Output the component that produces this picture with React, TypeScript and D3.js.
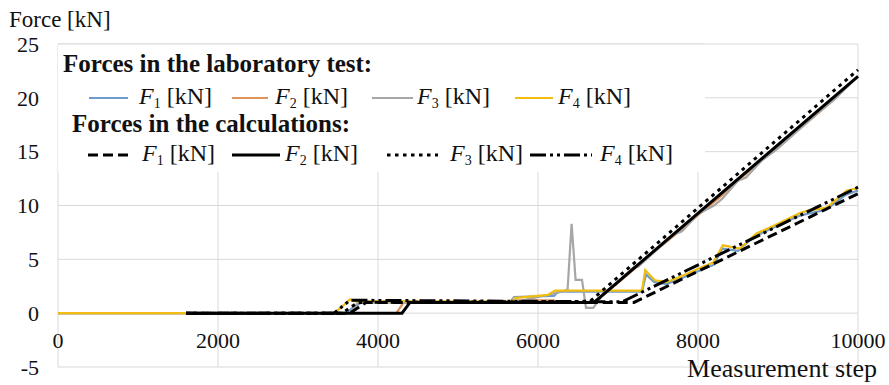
import React from 'react';
import * as d3 from 'd3';

type Pt = [number, number];

// laboratory test forces [step, kN]
const labF1: Pt[] = [[0, 0], [3600, 0], [3700, 0.6], [3800, 1.0], [5650, 1.0], [5700, 1.5], [6200, 1.6], [6250, 2.0], [7300, 2.0], [7350, 3.6], [7450, 2.9], [7600, 2.7], [7750, 3.1], [8000, 3.9], [8200, 4.5], [8300, 6.0], [8500, 5.8], [8700, 7.1], [8900, 7.8], [9250, 9.0], [9350, 9.2], [9600, 9.6], [9850, 11.0], [10000, 11.4]];
const labF2: Pt[] = [[0, 0], [4230, 0], [4320, 1.0], [5700, 1.0], [5750, 1.2], [6200, 1.2], [6250, 1.0], [6700, 1.0], [7000, 2.8], [7250, 4.4], [7500, 6.0], [7750, 7.5], [8000, 9.1], [8250, 10.6], [8500, 12.3], [8750, 13.9], [9000, 15.5], [9300, 17.3], [9600, 19.2], [9800, 20.6], [10000, 22.0]];
const labF3: Pt[] = [[0, 0], [3650, 0], [3750, 1.0], [5700, 1.0], [6000, 1.5], [6300, 2.0], [6370, 2.2], [6420, 8.3], [6470, 3.1], [6550, 3.1], [6600, 0.5], [6690, 0.5], [6800, 1.6], [7000, 2.9], [7200, 4.3], [7250, 4.3], [7500, 6.0], [7700, 7.3], [7800, 7.6], [8000, 9.2], [8200, 10.0], [8300, 10.6], [8500, 12.3], [8600, 12.6], [8800, 14.2], [9000, 15.3], [9300, 17.3], [9500, 18.6], [9700, 19.8], [10000, 22.0]];
const labF4: Pt[] = [[0, 0], [3450, 0], [3550, 0.6], [3650, 1.3], [3720, 1.1], [4400, 1.1], [5690, 1.1], [5700, 1.4], [6125, 1.7], [6210, 2.1], [7300, 2.1], [7340, 4.0], [7460, 3.05], [7610, 2.9], [7750, 3.3], [8025, 4.2], [8190, 4.7], [8310, 6.3], [8525, 6.0], [8730, 7.4], [8940, 8.1], [9275, 9.3], [9360, 9.5], [9610, 9.8], [9860, 11.4], [10000, 11.6]];

// calculated forces
const calcF1: Pt[] = [[1600, 0], [3650, 0], [3850, 1.0], [7200, 1.0], [10000, 11.1]];
const calcF2: Pt[] = [[1600, 0], [4300, 0], [4400, 1.0], [6700, 1.0], [10000, 22.0]];
const calcF3: Pt[] = [[1600, 0], [3550, 0], [3750, 1.0], [6650, 1.1], [10000, 22.6]];
const calcF4: Pt[] = [[1600, 0], [3450, 0], [3650, 1.2], [7050, 1.05], [10000, 11.7]];

const xTicks = [0, 2000, 4000, 6000, 8000, 10000];
const yTicks = [-5, 0, 5, 10, 15, 20, 25];
const seriesIdx = ['1', '2', '3', '4'];

const FONT = '"Liberation Serif", "Times New Roman", serif';
const labColors = ['#6f9bc8', '#e0935a', '#a6a6a6', '#f0bd10'];
const calcDash = ['10,5', '', '3.5,4.5', '16,4,3,4,3,4'];

const Label = ({x, y, sub}: {x: number; y: number; sub: string}) => (
    <text x={x} y={y} fontSize={24} fontFamily={FONT} fill="#111">
        <tspan fontStyle="italic">F</tspan>
        <tspan fontSize={14} dy={4}>{sub}</tspan>
        <tspan dy={-4}> [kN]</tspan>
    </text>
);

export default function App() {
    const width = 889, height = 385;
    const x = d3.scaleLinear().domain([0, 10000]).range([58, 858]);
    const y = d3.scaleLinear().domain([-5, 25]).range([367, 44]);
    const line = d3.line<Pt>().x(d => x(d[0])).y(d => y(d[1]));

    const lab = [labF1, labF2, labF3, labF4];
    const calc = [calcF1, calcF2, calcF3, calcF4];

    // legend layout
    const labLines = [[89, 128, 139], [232, 268, 275], [372, 413, 417], [515, 553, 558]];
    const calcLines = [[88, 132, 142], [232, 280, 285], [387, 438, 450], [530, 592, 600]];

    return (
        <svg width={width} height={height} style={{position: 'absolute', left: 0, top: 0, background: '#fff'}}>
            {/* grid */}
            {xTicks.map(t => (
                <line key={'gx' + t} x1={x(t)} x2={x(t)} y1={y(25)} y2={y(-5)} stroke="#d9d9d9" strokeWidth={1}/>
            ))}
            {yTicks.map(t => (
                <line key={'gy' + t} x1={x(0)} x2={x(10000)} y1={y(t)} y2={y(t)} stroke="#d9d9d9" strokeWidth={1}/>
            ))}

            {/* tick labels */}
            {yTicks.map(t => (
                <text key={'ty' + t} x={39} y={y(t)} dy="0.35em" textAnchor="end" fontSize={22} fontFamily={FONT} fill="#111">{t}</text>
            ))}
            {xTicks.map(t => (
                <text key={'tx' + t} x={x(t)} y={348} textAnchor="middle" fontSize={22} fontFamily={FONT} fill="#111">{t}</text>
            ))}

            {/* axis titles */}
            <text x={9} y={27} fontSize={23} fontFamily={FONT} fill="#111">Force [kN]</text>
            <text x={877} y={377} textAnchor="end" fontSize={26} fontFamily={FONT} fill="#111">Measurement step</text>

            {/* legend box */}
            <rect x={58} y={44} width={647} height={128} fill="#fff"/>
            <line x1={58} x2={705} y1={44} y2={44} stroke="#d9d9d9"/>

            {/* data */}
            {lab.map((s, i) => (
                <path key={'lab' + i} d={line(s) || ''} fill="none" stroke={labColors[i]} strokeWidth={2.2}/>
            ))}
            {calc.map((s, i) => (
                <path key={'calc' + i} d={line(s) || ''} fill="none" stroke="#000" strokeWidth={3}
                      strokeDasharray={calcDash[i] || undefined}/>
            ))}

            {/* legend */}
            <text x={63} y={72} fontSize={25} fontWeight="bold" fontFamily={FONT} fill="#111">Forces in the laboratory test:</text>
            {labLines.map(([a, b, tx], i) => (
                <g key={'ll' + i}>
                    <line x1={a} x2={b} y1={98} y2={98} stroke={labColors[i]} strokeWidth={2}/>
                    <Label x={tx} y={104} sub={seriesIdx[i]}/>
                </g>
            ))}
            <text x={72} y={132} fontSize={25} fontWeight="bold" fontFamily={FONT} fill="#111">Forces in the calculations:</text>
            {calcLines.map(([a, b, tx], i) => (
                <g key={'cl' + i}>
                    <line x1={a} x2={b} y1={155} y2={155} stroke="#000" strokeWidth={3}
                          strokeDasharray={calcDash[i] || undefined}/>
                    <Label x={tx} y={161} sub={seriesIdx[i]}/>
                </g>
            ))}
        </svg>
    );
}
